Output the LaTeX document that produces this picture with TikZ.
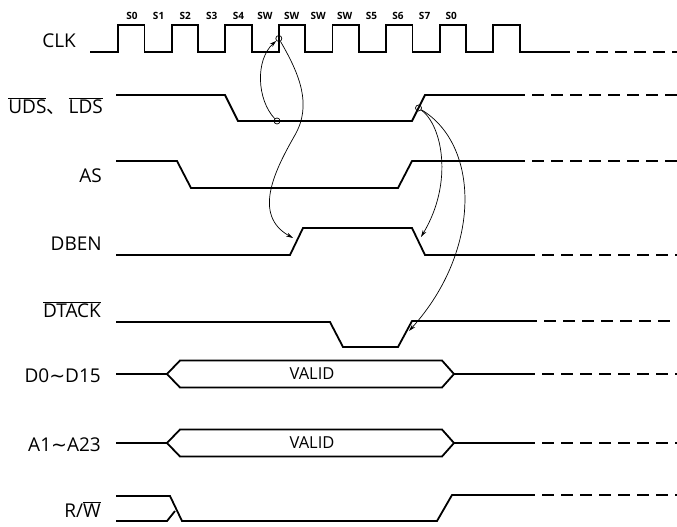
\documentclass[tikz,border=0pt]{standalone}
\usepackage{fontspec}
\setmainfont{Open Sans}
\newfontfamily\cjk{Noto Sans CJK SC}
\newfontfamily\symfont{DejaVu Sans}
\usetikzlibrary{
arrows.meta,
positioning,
calc
}
\tikzset{
sigline/.style={line width=1.8pt, line join=miter},
sigdash/.style={line width=1.8pt, dash pattern=on 12pt off 7pt},
siglabel/.style={anchor=base east, inner sep=0pt, font=\fontsize{19}{21}\selectfont},
statelabel/.style={inner sep=0pt, font=\bfseries\fontsize{10}{11}\selectfont},
validtext/.style={inner sep=0pt, font=\fontsize{16.5}{18}\selectfont},
refdot/.style={circle, draw, line width=0.7pt, inner sep=0pt, minimum size=6pt},
cause/.style={-{Stealth[length=7pt, width=4pt]}, line width=0.7pt}
}

\begin{document}
\begin{tikzpicture}[x=1pt, y=-1pt]
\useasboundingbox (0,0) rectangle (677,527);

% signal names
\node[siglabel] (lclk) at (76,48) {CLK};
\node[siglabel] (luds) at (103,113) {$\overline{\mbox{UDS}}${\cjk 、}\,$\overline{\mbox{LDS}}$};
\node[siglabel] (las) at (102,182) {AS};
\node[siglabel] (ldben) at (102,250) {DBEN};
\node[siglabel] (ldtack) at (101,317) {$\overline{\mbox{DTACK}}$};
\node[siglabel] (ldata) at (101,382) {D0{\symfont\char"223C}D15};
\node[siglabel] (laddr) at (101,451) {A1{\symfont\char"223C}A23};
\node[siglabel] (lrw) at (101,517) {R/$\overline{\mbox{W}}$};

% clock states
\foreach \s [count=\k from 0] in {S0,S1,S2,S3,S4,SW,SW,SW,SW,S5,S6,S7,S0}
  \node[statelabel] (st\k) at ({132+26.6*\k},16) {\s};

% CLK
\draw[sigline] (90,52)
  foreach \k in {0,...,7} {
    -- ({118+53.6*\k},52) -- ({118+53.6*\k},25)
    -- ({144.5+53.6*\k},25) -- ({144.5+53.6*\k},52)
  } -- (558,52);
\draw[sigdash] (558,52) -- (677,52);

% UDS, LDS
\draw[sigline] (116,95) -- (225,95) -- (238,121) -- (412,121) -- (425,95) -- (513,95);
\draw[sigdash] (513,95) -- (677,95);

% AS
\draw[sigline] (116,161) -- (177,161) -- (191,188) -- (398,188) -- (412,161) -- (513,161);
\draw[sigdash] (513,161) -- (677,161);

% DBEN
\draw[sigline] (116,255) -- (290,255) -- (303,228) -- (412,228) -- (425,255) -- (523,255);
\draw[sigdash] (523,255) -- (677,255);

% DTACK
\draw[sigline] (116,322) -- (330,322) -- (343,347) -- (398,347) -- (412,321) -- (525,321);
\draw[sigdash] (525,321) -- (677,321);

% data and address buses
\foreach \y/\n in {374/dvalid, 443/avalid} {
  \draw[sigline] (116,\y) -- (167,\y);
  \draw[sigline] (167,\y) -- (180,\y-13.5) -- (442,\y-13.5) -- (454,\y)
    -- (442,\y+13.5) -- (180,\y+13.5) -- cycle;
  \draw[sigline] (454,\y) -- (523,\y);
  \draw[sigdash] (523,\y) -- (677,\y);
  \node[validtext] (\n) at (312,\y) {VALID};
}

% R/W
\draw[sigline] (116,496) -- (170,496) -- (182,521) -- (437,521) -- (452,495) -- (523,495);
\draw[sigline] (116,521) -- (167,521) -- (175,511);
\draw[sigdash] (523,495) -- (677,495);

% timing references
\node[refdot] (clkedge) at (278.8,38.5) {};
\node[refdot] (udsfall) at (277,121) {};
\node[refdot] (udsrise) at (418.5,108) {};
\coordinate (dbenrise) at (293,238);
\coordinate (dbenfall) at (421,237);
\coordinate (dtackrise) at (409,331);

\draw[cause] (udsfall) .. controls (257,100) and (255,60) .. (clkedge);
\draw[cause] (clkedge) .. controls (300,75) and (312,105) .. (295,135)
  .. controls (275,170) and (252,215) .. (dbenrise);
\draw[cause] (udsrise) .. controls (442,125) and (454,182) .. (dbenfall);
\draw[cause] (udsrise) .. controls (480,145) and (482,250) .. (dtackrise);
\end{tikzpicture}
\end{document}
